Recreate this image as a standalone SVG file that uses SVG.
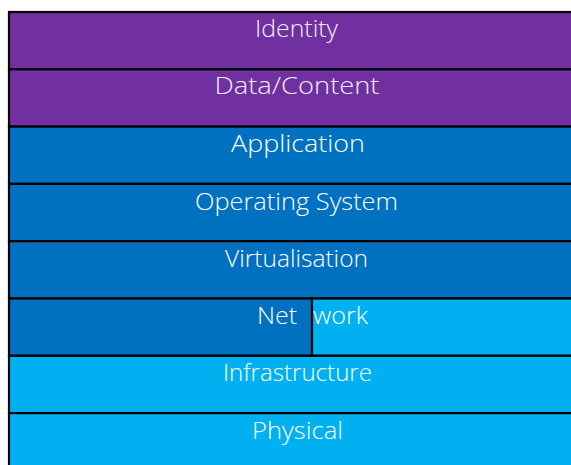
<svg xmlns="http://www.w3.org/2000/svg" width="571" height="465" viewBox="0 0 571 465">
<style>
.c{stroke:#000;stroke-width:2.2}
.p{fill:#7030a0}
.d{fill:#0070c0}
.l{fill:#00b0f0}
text{font-family:"Open Sans","DejaVu Sans",sans-serif;font-weight:300;font-size:23px;fill:#fff;text-anchor:middle}
.t{fill:#f3ecfa}
</style>
<rect width="571" height="465" fill="#fff"/>
<g id="identity"><rect class="c p" x="9" y="12" width="590" height="57.3"/><text class="t" x="296.5" y="37" textLength="83" lengthAdjust="spacingAndGlyphs">Identity</text></g>
<g id="data"><rect class="c p" x="9" y="69.3" width="590" height="57.3"/><text class="t" x="297" y="94" textLength="165" lengthAdjust="spacingAndGlyphs">Data/Content</text></g>
<g id="application"><rect class="c d" x="9" y="126.6" width="590" height="57.3"/><text x="298" y="151.5" textLength="134" lengthAdjust="spacingAndGlyphs">Application</text></g>
<g id="os"><rect class="c d" x="9" y="183.9" width="590" height="57.3"/><text x="296.5" y="209.5" textLength="203" lengthAdjust="spacingAndGlyphs">Operating System</text></g>
<g id="virtualisation"><rect class="c d" x="9" y="241.2" width="590" height="57.3"/><text x="296.5" y="266.5" textLength="143" lengthAdjust="spacingAndGlyphs">Virtualisation</text></g>
<g id="network"><rect class="c d" x="9" y="298.5" width="303" height="57.3"/><rect class="c l" x="312" y="298.5" width="287" height="57.3"/><text x="277" y="323.5" textLength="40" lengthAdjust="spacingAndGlyphs">Net</text><text x="340.5" y="323.5" textLength="55" lengthAdjust="spacingAndGlyphs">work</text></g>
<g id="infrastructure"><rect class="c l" x="9" y="355.8" width="590" height="57.3"/><text x="297.5" y="381" textLength="149" lengthAdjust="spacingAndGlyphs">Infrastructure</text></g>
<g id="physical"><rect class="c l" x="9" y="413.1" width="590" height="60"/><text x="297.5" y="438.5" textLength="91" lengthAdjust="spacingAndGlyphs">Physical</text></g>
<g id="connectors"/>
</svg>
